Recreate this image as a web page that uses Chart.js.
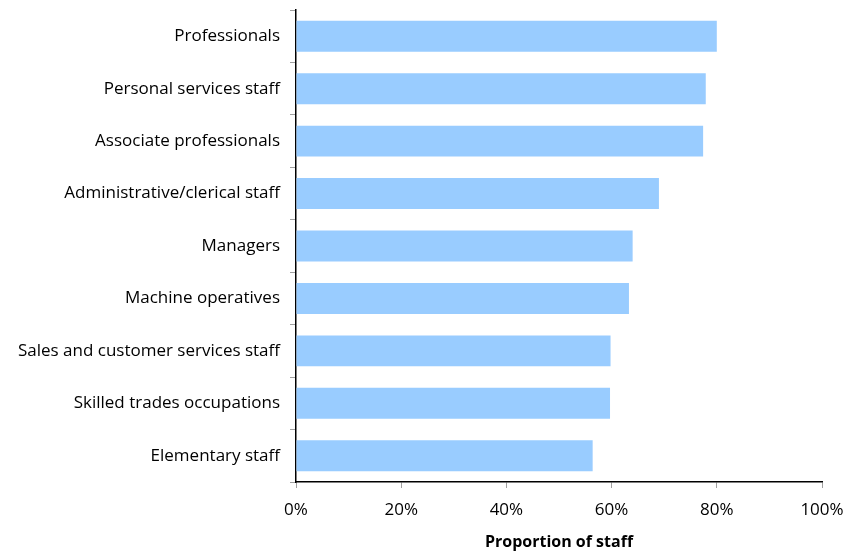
<!DOCTYPE html>
<html>
<head>
<meta charset="utf-8">
<script src="https://cdn.jsdelivr.net/npm/chart.js@4.4.0/dist/chart.umd.min.js"></script>
<style>
  html, body { margin: 0; padding: 0; background: #fff; }
  #wrap { width: 845px; height: 554px; }
</style>
</head>
<body>
<div id="wrap"><canvas id="staff-chart" width="845" height="554"></canvas></div>
<script>
// Share of staff by occupation group (%)
const occupations = [
  'Professionals',
  'Personal services staff',
  'Associate professionals',
  'Administrative/clerical staff',
  'Managers',
  'Machine operatives',
  'Sales and customer services staff',
  'Skilled trades occupations',
  'Elementary staff'
];
const proportions = [80.0, 77.9, 77.4, 69.0, 64.0, 63.3, 59.8, 59.7, 56.4];
const xTicks = [0, 20, 40, 60, 80, 100];

const FONT = 'Open Sans, Noto Sans, sans-serif';

document.addEventListener('DOMContentLoaded', () => {
  const ctx = document.getElementById('staff-chart').getContext('2d');
  new Chart(ctx, {
    type: 'bar',
    data: {
      labels: occupations,
      datasets: [{
        data: proportions,
        backgroundColor: '#99ccff',
        borderWidth: 0,
        categoryPercentage: 1,
        barPercentage: 0.59
      }]
    },
    options: {
      indexAxis: 'y',
      responsive: false,
      animation: false,
      layout: { padding: { top: 10, right: 23, bottom: 2, left: 0 } },
      plugins: { legend: { display: false }, tooltip: { enabled: false } },
      scales: {
        x: {
          min: 0,
          max: 100,
          afterBuildTicks: s => { s.ticks = xTicks.map(v => ({ value: v })); },
          afterFit: s => { s.height = 70; s.paddingLeft = 0; s.paddingRight = 0; },
          grid: { drawOnChartArea: false, tickLength: 6, tickColor: '#a0a0a0' },
          border: { color: '#000', width: 1.5 },
          ticks: {
            color: '#000',
            padding: 12,
            maxRotation: 0,
            font: { family: FONT, size: 17 },
            callback: v => v + '%'
          },
          title: {
            display: true,
            text: 'Proportion of staff',
            color: '#000',
            padding: { top: 8, bottom: 0 },
            font: { family: FONT, size: 16, weight: 'bold' }
          }
        },
        y: {
          afterFit: s => { s.width = 296; s.paddingTop = 0; s.paddingBottom = 0; },
          grid: { drawOnChartArea: false, tickLength: 6, tickColor: '#a0a0a0', offset: true },
          border: { color: '#000', width: 1.5 },
          ticks: {
            color: '#000',
            padding: 10,
            font: { family: FONT, size: 17 }
          }
        }
      }
    }
  });
});
</script>
</body>
</html>
